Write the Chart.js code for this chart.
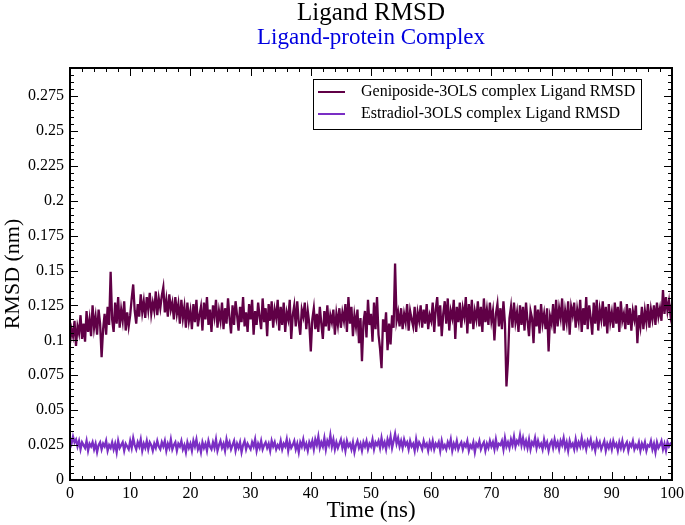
<!DOCTYPE html>
<html>
<head>
<meta charset="utf-8">
<script src="https://cdn.jsdelivr.net/npm/chart.js@4.4.1/dist/chart.umd.min.js"></script>
<style>
  html, body { margin: 0; padding: 0; background: #fff; }
</style>
</head>
<body>
<canvas id="rmsdChart" width="685" height="525"></canvas>
<script>
// sampling interval of the trajectory (ns)
const timeStep = 0.25;

// Geniposide-3OLS complex, ligand RMSD (nm), 20 values = 5 ns per row
const geniposide = [
  0.098, 0.108, 0.103, 0.114, 0.096, 0.110, 0.105, 0.118, 0.101, 0.112, 0.099, 0.121, 0.106, 0.115, 0.103, 0.125, 0.109, 0.117, 0.104, 0.122,
  0.112, 0.088, 0.108, 0.119, 0.104, 0.124, 0.111, 0.149, 0.115, 0.106, 0.127, 0.112, 0.131, 0.109, 0.122, 0.114, 0.128, 0.107, 0.120, 0.110,
  0.118, 0.130, 0.140, 0.121, 0.112, 0.126, 0.117, 0.133, 0.120, 0.128, 0.116, 0.131, 0.122, 0.134, 0.119, 0.127, 0.121, 0.135, 0.118, 0.130,
  0.123, 0.132, 0.138, 0.120, 0.129, 0.117, 0.133, 0.122, 0.127, 0.115, 0.131, 0.119, 0.126, 0.112, 0.129, 0.116, 0.124, 0.109, 0.127, 0.114,
  0.121, 0.108, 0.126, 0.113, 0.129, 0.110, 0.118, 0.124, 0.107, 0.127, 0.115, 0.131, 0.111, 0.122, 0.106, 0.125, 0.117, 0.129, 0.109, 0.121,
  0.114, 0.127, 0.108, 0.123, 0.112, 0.130, 0.116, 0.105, 0.125, 0.111, 0.128, 0.118, 0.107, 0.124, 0.113, 0.131, 0.110, 0.120, 0.106, 0.126,
  0.115, 0.129, 0.104, 0.121, 0.111, 0.127, 0.117, 0.108, 0.130, 0.113, 0.123, 0.103, 0.126, 0.114, 0.128, 0.109, 0.122, 0.116, 0.129, 0.107,
  0.124, 0.111, 0.127, 0.106, 0.120, 0.115, 0.129, 0.101, 0.118, 0.125, 0.110, 0.128, 0.113, 0.104, 0.122, 0.117, 0.127, 0.108, 0.121, 0.112,
  0.092, 0.115, 0.123, 0.108, 0.119, 0.106, 0.124, 0.112, 0.101, 0.121, 0.110, 0.125, 0.107, 0.118, 0.113, 0.122, 0.104, 0.119, 0.111, 0.123,
  0.109, 0.120, 0.114, 0.126, 0.106, 0.131, 0.112, 0.124, 0.103, 0.118, 0.110, 0.122, 0.098, 0.116, 0.085, 0.113, 0.121, 0.102, 0.129, 0.111,
  0.119, 0.099, 0.127, 0.108, 0.131, 0.104, 0.094, 0.080, 0.115, 0.106, 0.120, 0.093, 0.112, 0.097, 0.118, 0.109, 0.155, 0.114, 0.120, 0.110,
  0.123, 0.108, 0.119, 0.113, 0.126, 0.107, 0.121, 0.115, 0.110, 0.124, 0.106, 0.120, 0.114, 0.125, 0.109, 0.122, 0.112, 0.126, 0.108, 0.118,
  0.114, 0.127, 0.106, 0.122, 0.131, 0.110, 0.125, 0.103, 0.119, 0.128, 0.112, 0.130, 0.107, 0.121, 0.116, 0.129, 0.101, 0.124, 0.113, 0.127,
  0.109, 0.123, 0.117, 0.131, 0.105, 0.126, 0.112, 0.129, 0.108, 0.121, 0.115, 0.128, 0.110, 0.124, 0.106, 0.130, 0.113, 0.122, 0.111, 0.127,
  0.114, 0.121, 0.100, 0.119, 0.126, 0.110, 0.123, 0.108, 0.128, 0.112, 0.067, 0.085, 0.116, 0.124, 0.109, 0.127, 0.113, 0.120, 0.106, 0.125,
  0.111, 0.124, 0.107, 0.127, 0.114, 0.103, 0.121, 0.116, 0.098, 0.125, 0.110, 0.122, 0.105, 0.126, 0.112, 0.119, 0.108, 0.123, 0.092, 0.117,
  0.112, 0.126, 0.105, 0.129, 0.110, 0.123, 0.116, 0.130, 0.107, 0.121, 0.113, 0.128, 0.104, 0.124, 0.118, 0.127, 0.109, 0.122, 0.114, 0.129,
  0.106, 0.123, 0.111, 0.131, 0.108, 0.125, 0.116, 0.104, 0.127, 0.112, 0.129, 0.107, 0.122, 0.115, 0.128, 0.110, 0.124, 0.105, 0.126, 0.113,
  0.120, 0.109, 0.127, 0.112, 0.124, 0.106, 0.128, 0.114, 0.119, 0.108, 0.126, 0.111, 0.123, 0.107, 0.121, 0.115, 0.125, 0.098, 0.118, 0.110,
  0.124, 0.108, 0.121, 0.113, 0.126, 0.109, 0.122, 0.115, 0.125, 0.111, 0.127, 0.117, 0.123, 0.114, 0.136, 0.119, 0.131, 0.121, 0.128, 0.118,
  0.126
];

// Estradiol-3OLS complex, ligand RMSD (nm)
const estradiol = [
  0.030, 0.026, 0.031, 0.027, 0.029, 0.024, 0.028, 0.022, 0.027, 0.025, 0.023, 0.028, 0.021, 0.026, 0.024, 0.027, 0.022, 0.026, 0.020, 0.025,
  0.027, 0.022, 0.026, 0.024, 0.028, 0.021, 0.025, 0.023, 0.027, 0.022, 0.026, 0.020, 0.028, 0.023, 0.025, 0.027, 0.021, 0.026, 0.024, 0.022,
  0.028, 0.023, 0.030, 0.025, 0.022, 0.027, 0.024, 0.029, 0.021, 0.026, 0.023, 0.028, 0.022, 0.027, 0.025, 0.021, 0.026, 0.023, 0.028, 0.024,
  0.022, 0.027, 0.024, 0.028, 0.021, 0.026, 0.023, 0.029, 0.022, 0.025, 0.027, 0.021, 0.026, 0.024, 0.028, 0.022, 0.025, 0.020, 0.027, 0.023,
  0.026, 0.021, 0.028, 0.024, 0.029, 0.022, 0.025, 0.020, 0.027, 0.023, 0.026, 0.021, 0.028, 0.024, 0.022, 0.027, 0.023, 0.029, 0.021, 0.025,
  0.028, 0.023, 0.026, 0.021, 0.029, 0.024, 0.027, 0.022, 0.025, 0.028, 0.021, 0.026, 0.023, 0.027, 0.020, 0.025, 0.028, 0.022, 0.026, 0.024,
  0.022, 0.027, 0.024, 0.029, 0.021, 0.026, 0.023, 0.028, 0.022, 0.025, 0.027, 0.023, 0.026, 0.021, 0.028, 0.024, 0.027, 0.022, 0.025, 0.023,
  0.028, 0.022, 0.026, 0.024, 0.029, 0.021, 0.027, 0.023, 0.025, 0.028, 0.022, 0.026, 0.020, 0.027, 0.024, 0.029, 0.023, 0.026, 0.021, 0.027,
  0.024, 0.028, 0.022, 0.029, 0.025, 0.031, 0.023, 0.027, 0.024, 0.030, 0.022, 0.028, 0.025, 0.032, 0.024, 0.029, 0.022, 0.027, 0.023, 0.026,
  0.029, 0.023, 0.027, 0.021, 0.028, 0.024, 0.026, 0.022, 0.027, 0.020, 0.025, 0.028, 0.023, 0.026, 0.021, 0.027, 0.024, 0.028, 0.022, 0.026,
  0.024, 0.029, 0.022, 0.027, 0.025, 0.028, 0.023, 0.030, 0.024, 0.027, 0.022, 0.029, 0.025, 0.031, 0.023, 0.028, 0.033, 0.026, 0.030, 0.024,
  0.028, 0.023, 0.029, 0.025, 0.027, 0.022, 0.028, 0.024, 0.026, 0.021, 0.029, 0.023, 0.027, 0.025, 0.022, 0.028, 0.024, 0.026, 0.021, 0.027,
  0.023, 0.028, 0.022, 0.026, 0.024, 0.027, 0.021, 0.028, 0.023, 0.025, 0.022, 0.027, 0.024, 0.029, 0.021, 0.026, 0.023, 0.028, 0.022, 0.025,
  0.027, 0.022, 0.026, 0.024, 0.028, 0.021, 0.025, 0.023, 0.027, 0.020, 0.026, 0.024, 0.028, 0.022, 0.025, 0.027, 0.021, 0.026, 0.023, 0.028,
  0.024, 0.027, 0.022, 0.029, 0.023, 0.026, 0.025, 0.028, 0.022, 0.030, 0.024, 0.027, 0.023, 0.029, 0.025, 0.031, 0.024, 0.028, 0.026, 0.032,
  0.025, 0.030, 0.024, 0.028, 0.023, 0.029, 0.022, 0.027, 0.025, 0.030, 0.023, 0.028, 0.024, 0.026, 0.022, 0.029, 0.024, 0.027, 0.021, 0.026,
  0.028, 0.023, 0.029, 0.024, 0.027, 0.022, 0.028, 0.025, 0.030, 0.023, 0.027, 0.021, 0.028, 0.024, 0.026, 0.022, 0.029, 0.023, 0.027, 0.024,
  0.030, 0.024, 0.027, 0.022, 0.028, 0.025, 0.029, 0.023, 0.026, 0.021, 0.028, 0.024, 0.027, 0.022, 0.025, 0.028, 0.021, 0.026, 0.023, 0.027,
  0.022, 0.028, 0.024, 0.026, 0.021, 0.027, 0.023, 0.028, 0.022, 0.025, 0.027, 0.021, 0.026, 0.024, 0.028, 0.022, 0.025, 0.023, 0.027, 0.021,
  0.026, 0.023, 0.027, 0.021, 0.025, 0.024, 0.028, 0.022, 0.026, 0.020, 0.027, 0.023, 0.025, 0.028, 0.022, 0.026, 0.021, 0.027, 0.024, 0.026,
  0.025
];

const seriesNames = [
  "Geniposide-3OLS complex Ligand RMSD",
  "Estradiol-3OLS complex Ligand RMSD"
];
const seriesColors = ["#600046", "#7a2ec4"];

const chartTitle = "Ligand RMSD";
const chartSubtitle = "Ligand-protein Complex";

const xRange = [0, 100];
const xMajor = 10, xMinor = 2;
const yRange = [0, 0.295];
const yMajor = 0.025, yMinor = 0.005;

const serif = "'Liberation Serif', 'DejaVu Serif', serif";

function toPoints(values) {
  return values.map((v, i) => ({ x: i * timeStep, y: v }));
}

// title and subtitle centred over the plot area
const plotTitles = {
  id: "plotTitles",
  afterDraw(chart) {
    const { ctx, chartArea: a } = chart;
    const cx = (a.left + a.right) / 2;
    ctx.save();
    ctx.textAlign = "center";
    ctx.textBaseline = "middle";
    ctx.fillStyle = "#000";
    ctx.font = "25px " + serif;
    ctx.fillText(chartTitle, cx, 13);
    ctx.fillStyle = "#0000e0";
    ctx.font = "23px " + serif;
    ctx.fillText(chartSubtitle, cx, 38);
    ctx.restore();
  }
};

// frame with inward ticks on all four sides, like xmgrace
const framePlugin = {
  id: "frame",
  afterDatasetsDraw(chart) {
    const { ctx, chartArea: a, scales } = chart;
    ctx.save();
    ctx.strokeStyle = "#000";
    ctx.lineWidth = 1;
    ctx.beginPath();
    for (let t = xRange[0]; t <= xRange[1] + 1e-9; t += xMinor) {
      const px = Math.round(scales.x.getPixelForValue(t)) + 0.5;
      const len = Math.abs(t % xMajor) < 1e-6 ? 8 : 4;
      ctx.moveTo(px, a.bottom); ctx.lineTo(px, a.bottom - len);
      ctx.moveTo(px, a.top); ctx.lineTo(px, a.top + len);
    }
    for (let k = 0; k * yMinor <= yRange[1] + 1e-9; k++) {
      const py = Math.round(scales.y.getPixelForValue(k * yMinor)) + 0.5;
      const len = k % 5 === 0 ? 8 : 4;
      ctx.moveTo(a.left, py); ctx.lineTo(a.left + len, py);
      ctx.moveTo(a.right, py); ctx.lineTo(a.right - len, py);
    }
    ctx.stroke();
    ctx.lineWidth = 2;
    ctx.strokeRect(a.left, a.top, a.right - a.left, a.bottom - a.top);
    ctx.restore();
  }
};

// boxed legend in the upper right of the plot
const boxLegend = {
  id: "boxLegend",
  afterDraw(chart) {
    const { ctx, chartArea: a } = chart;
    const x0 = a.right - 359, y0 = a.top + 11, w = 328, h = 50;
    ctx.save();
    ctx.fillStyle = "#fff";
    ctx.fillRect(x0, y0, w, h);
    ctx.strokeStyle = "#000";
    ctx.lineWidth = 1;
    ctx.strokeRect(x0 + 0.5, y0 + 0.5, w, h);
    ctx.font = "16px " + serif;
    ctx.textBaseline = "middle";
    seriesNames.forEach((name, i) => {
      const yy = y0 + 13 + i * 22;
      ctx.strokeStyle = seriesColors[i];
      ctx.lineWidth = 2;
      ctx.beginPath();
      ctx.moveTo(x0 + 5, yy); ctx.lineTo(x0 + 32, yy);
      ctx.stroke();
      ctx.fillStyle = "#000";
      ctx.fillText(name, x0 + 48, yy);
    });
    ctx.restore();
  }
};

new Chart(document.getElementById("rmsdChart"), {
  type: "line",
  data: {
    datasets: [
      { label: seriesNames[0], data: toPoints(geniposide), borderColor: seriesColors[0] },
      { label: seriesNames[1], data: toPoints(estradiol), borderColor: seriesColors[1] }
    ]
  },
  options: {
    responsive: false,
    animation: false,
    devicePixelRatio: 1,
    layout: { padding: { left: 0, right: 13, top: 68, bottom: 0 } },
    elements: {
      point: { radius: 0 },
      line: { borderWidth: 2.3, tension: 0 }
    },
    plugins: {
      legend: { display: false },
      tooltip: { enabled: false },
      title: { display: false }
    },
    scales: {
      x: {
        type: "linear",
        min: xRange[0],
        max: xRange[1],
        grid: { display: false, drawTicks: false },
        border: { display: false },
        ticks: {
          stepSize: xMajor,
          color: "#000",
          font: { family: serif, size: 16 },
          padding: 4,
          maxRotation: 0
        },
        title: {
          display: true,
          text: "Time (ns)",
          color: "#000",
          font: { family: serif, size: 23 },
          padding: 0
        },
        afterFit: s => { s.height = 45; s.paddingLeft = 0; s.paddingRight = 0; }
      },
      y: {
        min: yRange[0],
        max: yRange[1],
        grid: { display: false, drawTicks: false },
        border: { display: false },
        ticks: {
          stepSize: yMajor,
          includeBounds: false,
          color: "#000",
          font: { family: serif, size: 16 },
          padding: 6,
          callback: v => String(+v.toFixed(3))
        },
        title: {
          display: true,
          text: "RMSD (nm)",
          color: "#000",
          font: { family: serif, size: 22 },
          padding: 0
        },
        afterFit: s => { s.width = 70; s.paddingTop = 0; s.paddingBottom = 0; }
      }
    }
  },
  plugins: [framePlugin, boxLegend, plotTitles]
});
</script>
</body>
</html>
